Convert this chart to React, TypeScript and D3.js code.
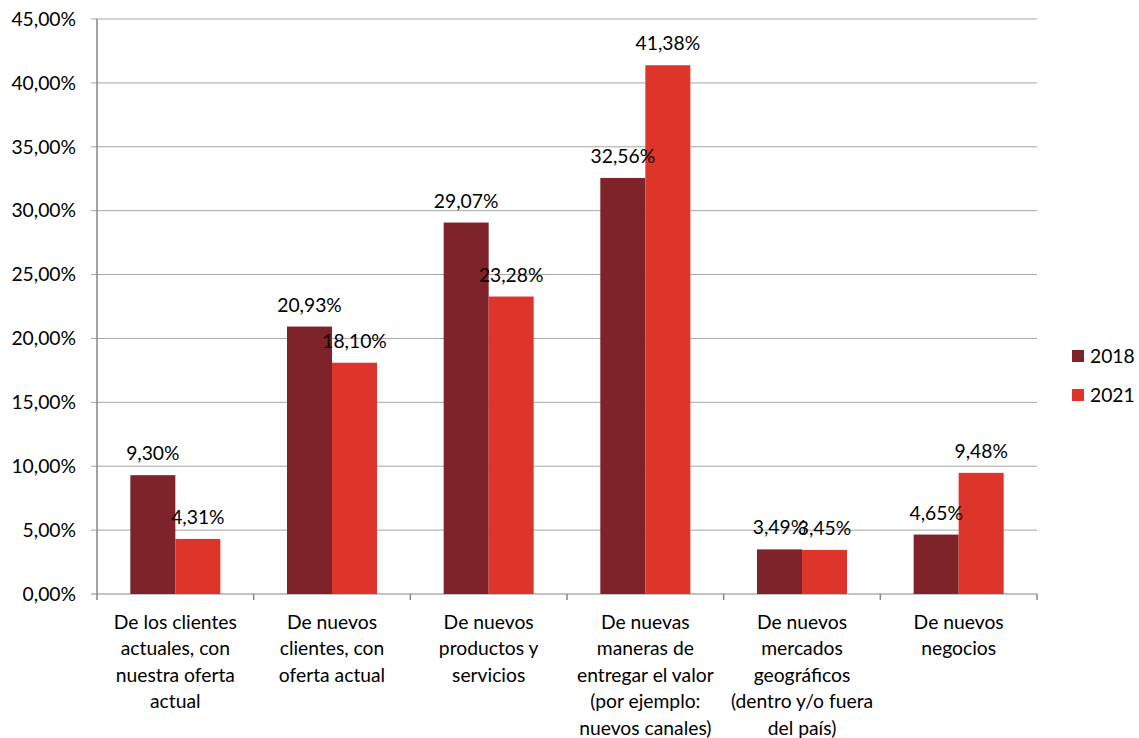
import React from "react";
import * as d3 from "d3";

const categories: string[][] = [
  ["De los clientes", "actuales, con", "nuestra oferta", "actual"],
  ["De nuevos", "clientes, con", "oferta actual"],
  ["De nuevos", "productos y", "servicios"],
  ["De nuevas", "maneras de", "entregar el valor", "(por ejemplo:", "nuevos canales)"],
  ["De nuevos", "mercados", "geográficos", "(dentro y/o fuera", "del país)"],
  ["De nuevos", "negocios"],
];
const seriesNames = ["2018", "2021"];
const values2018 = [9.3, 20.93, 29.07, 32.56, 3.49, 4.65];
const values2021 = [4.31, 18.1, 23.28, 41.38, 3.45, 9.48];
const yTicks = [0, 5, 10, 15, 20, 25, 30, 35, 40, 45];
const colors = ["#7F232A", "#DE352B"];

const W = 1139;
const H = 738;
const left = 97;
const right = 1037;
const top = 19;
const bottom = 594;
const font = "Lato, 'Open Sans', sans-serif";
const fs = 19.3;

const fmt = (v: number) => v.toFixed(2).replace(".", ",") + "%";

export default function App() {
  const x = d3
    .scaleBand<number>()
    .domain(categories.map((_, i) => i))
    .range([left, right]);
  const y = d3.scaleLinear().domain([0, 45]).range([bottom, top]);
  const bw = x.bandwidth();
  const barW = bw * 0.2873;
  const series = [values2018, values2021];

  return (
    <div style={{ position: "absolute", left: 0, top: 0 }}>
      <svg width={W} height={H} style={{ display: "block", background: "#fff" }} fontFamily={font}>
        {yTicks.map((t) => (
          <g key={t}>
            <line x1={left - 6} x2={right} y1={y(t)} y2={y(t)} stroke={t === 0 ? "#868686" : "#a6a6a6"} strokeWidth={1} />
            <text x={76} y={y(t)} dy="0.35em" textAnchor="end" fontSize={fs} fill="#000">
              {fmt(t)}
            </text>
          </g>
        ))}
        <line x1={left} x2={left} y1={top} y2={bottom} stroke="#868686" strokeWidth={1.5} />
        {categories.map((_, i) => (
          <line key={"t" + i} x1={x(i)!} x2={x(i)!} y1={bottom} y2={bottom + 6} stroke="#868686" strokeWidth={1.5} />
        ))}
        <line x1={right} x2={right} y1={bottom} y2={bottom + 6} stroke="#868686" strokeWidth={1.5} />
        {series.map((vals, s) =>
          vals.map((v, i) => {
            const cx = x(i)! + bw / 2;
            const bx = cx - barW + s * barW;
            return (
              <g key={s + "-" + i}>
                <rect x={bx} y={y(v)} width={barW} height={bottom - y(v)} fill={colors[s]} />
              </g>
            );
          })
        )}
        {series.map((vals, s) =>
          vals.map((v, i) => {
            const cx = x(i)! + bw / 2;
            const bx = cx - barW + s * barW;
            return (
              <text key={"l" + s + "-" + i} x={bx + barW / 2} y={y(v) - 15} textAnchor="middle" fontSize={fs} fill="#000">
                {fmt(v)}
              </text>
            );
          })
        )}
        {categories.map((lines, i) => (
          <text key={"c" + i} textAnchor="middle" fontSize={fs} fill="#000">
            {lines.map((ln, j) => (
              <tspan key={j} x={x(i)! + bw / 2} y={628.5 + j * 26.5}>
                {ln}
              </tspan>
            ))}
          </text>
        ))}
        {seriesNames.map((n, s) => (
          <g key={n}>
            <rect x={1072} y={350 + s * 39} width={12} height={12} fill={colors[s]} />
            <text x={1090} y={356 + s * 39} dy="0.35em" fontSize={fs} fill="#000">
              {n}
            </text>
          </g>
        ))}
      </svg>
    </div>
  );
}
